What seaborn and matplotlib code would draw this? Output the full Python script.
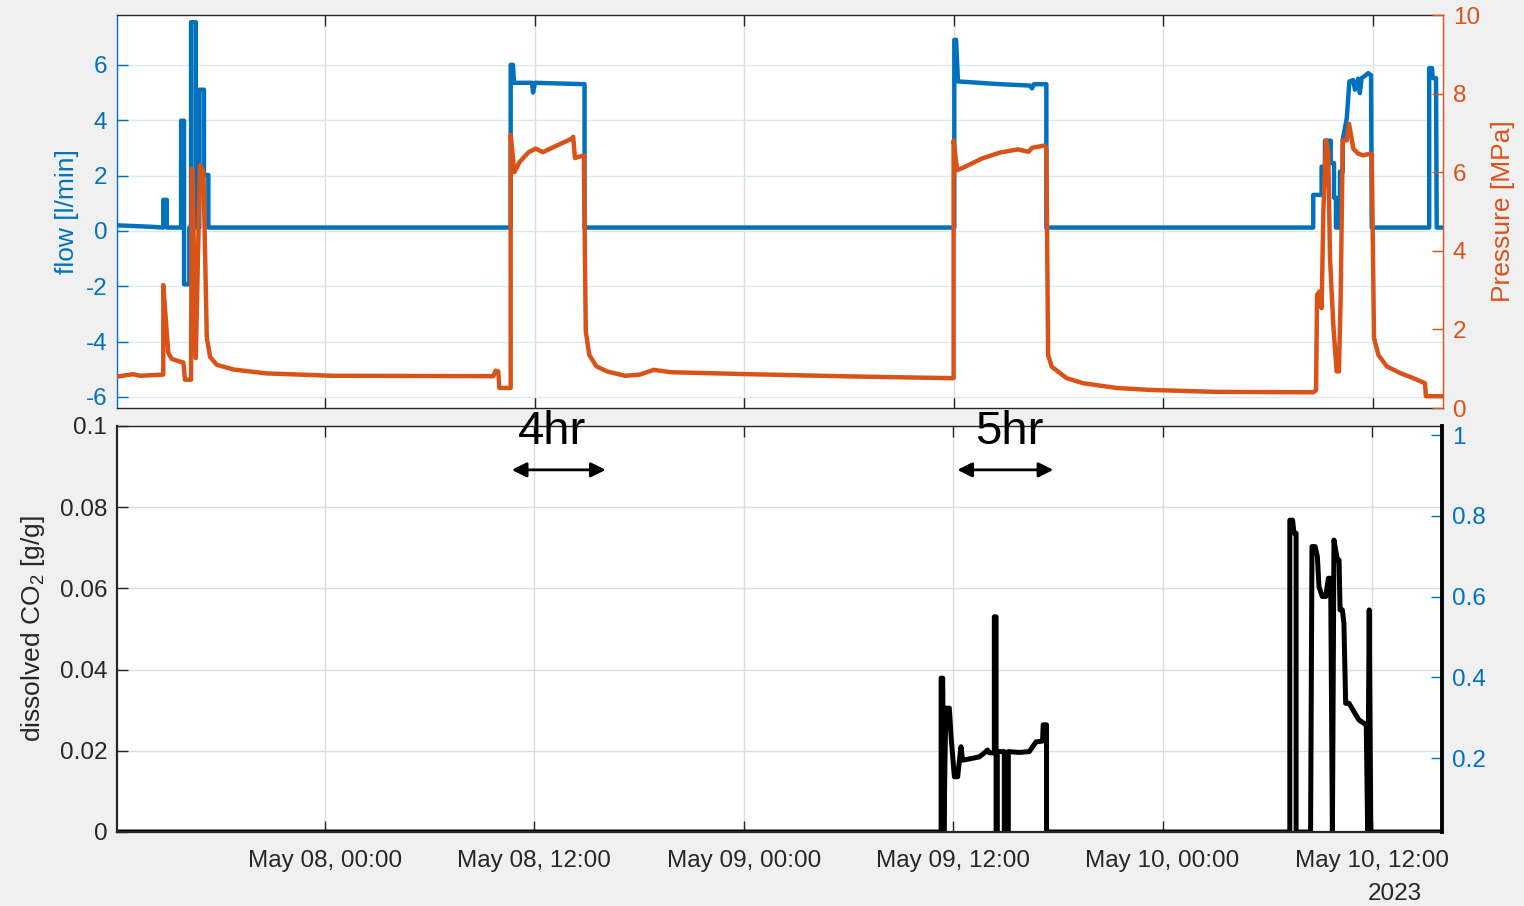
import matplotlib
matplotlib.use("Agg")
import matplotlib.pyplot as plt
import matplotlib.dates as mdates
import pandas as pd
import seaborn as sns

sns.set_style("white")
plt.rcParams["font.family"] = ["Liberation Sans", "DejaVu Sans"]
plt.rcParams["axes.unicode_minus"] = False
plt.rcParams["mathtext.fontset"] = "custom"
plt.rcParams["mathtext.rm"] = "Liberation Sans"

BLUE = "#0072BD"
ORANGE = "#D95319"
DARK = "#262626"

T0 = pd.Timestamp("2023-05-08 00:00")

# ---- flow [l/min], time in hours from May 08 00:00 ----
flow_hours = [-11.91, -10.02, -9.26, -9.26, -9.06, -9.06, -8.24, -8.24, -8.07, -8.07,
              -7.77, -7.77, -7.67, -7.67, -7.40, -7.40, -7.20, -7.20, -6.93, -6.93,
              -6.68, -6.68, 10.63, 10.63, 10.76, 10.82, 11.85, 11.91, 12.02, 14.86,
              14.86, 36.03, 36.03, 36.13, 36.24, 38.65, 40.36, 40.48, 40.59, 41.30,
              41.30, 56.58, 56.58, 57.06, 57.06, 57.25, 57.25, 57.58, 57.58, 57.77,
              57.77, 57.88, 57.88, 58.11, 58.11, 58.27, 58.27, 58.50, 58.65, 58.87,
              58.97, 59.16, 59.25, 59.35, 59.54, 59.73, 59.89, 59.93, 63.22, 63.22,
              63.38, 63.42, 63.61, 63.65, 64.01]
flow_lpm = [0.20, 0.15, 0.12, 1.12, 1.12, 0.12, 0.12, 3.98, 3.98, -1.93,
            -1.93, 0.12, 0.12, 7.54, 7.54, 0.12, 0.12, 5.10, 5.10, 2.02,
            2.02, 0.12, 0.12, 6.00, 6.00, 5.35, 5.35, 5.00, 5.35, 5.30,
            0.12, 0.12, 6.90, 6.90, 5.40, 5.30, 5.25, 5.15, 5.30, 5.30,
            0.12, 0.12, 1.30, 1.30, 2.32, 2.32, 3.26, 3.26, 2.45, 2.45,
            1.20, 1.20, 0.12, 0.12, 2.14, 2.14, 3.29, 4.07, 5.40, 5.45,
            5.10, 5.50, 4.98, 5.52, 5.60, 5.70, 5.62, 0.12, 0.12, 5.88,
            5.88, 5.52, 5.52, 0.12, 0.12]

# ---- pressure [MPa] ----
pressure_hours = [-11.91, -10.99, -10.59, -9.26, -9.26, -9.06, -8.97, -8.78, -8.30, -8.11,
                  -8.02, -7.67, -7.63, -7.59, -7.40, -7.16, -6.96, -6.77, -6.58, -6.20,
                  -5.25, -3.34, 0.46, 9.64, 9.76, 9.92, 9.98, 10.63, 10.63, 10.84,
                  11.14, 11.66, 12.06, 12.47, 13.09, 14.11, 14.21, 14.31, 14.82, 14.93,
                  15.13, 15.54, 16.15, 17.18, 18.03, 18.81, 19.83, 24.33, 30.46, 35.78,
                  35.99, 35.99, 36.19, 36.60, 37.62, 38.65, 39.67, 40.28, 40.48, 41.20,
                  41.30, 41.40, 41.61, 42.46, 43.41, 45.32, 47.23, 51.05, 56.58, 56.74,
                  56.80, 56.93, 57.06, 57.16, 57.31, 57.44, 57.54, 57.73, 57.92, 58.05,
                  58.15, 58.27, 58.50, 58.63, 58.78, 58.87, 59.16, 59.44, 59.83, 59.93,
                  60.06, 60.31, 60.79, 61.55, 62.31, 62.98, 63.03, 64.01]
pressure_mpa = [0.80, 0.86, 0.82, 0.85, 3.13, 1.90, 1.40, 1.25, 1.18, 1.16,
                0.72, 0.72, 6.09, 6.09, 1.27, 6.18, 6.00, 1.80, 1.30, 1.10,
                0.98, 0.88, 0.82, 0.81, 0.95, 0.93, 0.51, 0.51, 6.95, 6.00,
                6.26, 6.51, 6.60, 6.51, 6.64, 6.85, 6.90, 6.36, 6.43, 1.95,
                1.35, 1.06, 0.93, 0.82, 0.85, 0.97, 0.91, 0.86, 0.80, 0.76,
                0.76, 6.81, 6.05, 6.13, 6.35, 6.50, 6.58, 6.52, 6.62, 6.68,
                6.62, 1.35, 1.05, 0.76, 0.63, 0.51, 0.46, 0.41, 0.40, 0.45,
                2.88, 2.96, 2.54, 4.99, 6.81, 6.51, 3.81, 2.11, 0.93, 0.93,
                2.79, 6.81, 6.81, 7.23, 6.85, 6.60, 6.47, 6.43, 6.47, 6.45,
                1.78, 1.35, 1.06, 0.89, 0.76, 0.63, 0.30, 0.30]

# ---- dissolved CO2 [g/g] ----
co2_hours = [-11.91, 35.31, 35.31, 35.40, 35.47, 35.58, 35.78, 35.88, 36.07, 36.26,
             36.35, 36.45, 36.54, 36.93, 37.50, 37.79, 37.97, 38.07, 38.36, 38.36,
             38.46, 38.46, 38.53, 38.53, 38.93, 38.93, 39.16, 39.16, 39.79, 40.36,
             40.75, 41.12, 41.16, 41.35, 41.35, 55.29, 55.29, 55.45, 55.53, 55.65,
             55.65, 56.48, 56.56, 56.74, 56.87, 56.96, 57.15, 57.35, 57.50, 57.63,
             57.73, 57.82, 58.01, 58.11, 58.17, 58.30, 58.39, 58.49, 58.68, 58.97,
             59.25, 59.67, 59.75, 59.84, 59.93, 64.01]
co2_gg = [0.0, 0.0, 0.0379, 0.0379, 0.0, 0.0305, 0.0305, 0.0235, 0.0136, 0.0136,
          0.0173, 0.0210, 0.0177, 0.0180, 0.0185, 0.0195, 0.0202, 0.0195, 0.0195, 0.0530,
          0.0530, 0.0, 0.0, 0.0198, 0.0198, 0.0, 0.0, 0.0198, 0.0196, 0.0198,
          0.0222, 0.0224, 0.0264, 0.0264, 0.0, 0.0, 0.0768, 0.0768, 0.0736, 0.0736,
          0.0, 0.0, 0.0703, 0.0703, 0.0678, 0.0604, 0.0580, 0.0580, 0.0625, 0.0625,
          0.0, 0.0719, 0.0670, 0.0670, 0.0547, 0.0547, 0.0514, 0.0317, 0.0317, 0.0296,
          0.0276, 0.0264, 0.0, 0.0547, 0.0, 0.0]

tick_hours = [0, 12, 24, 36, 48, 60]
tick_labels = ["May 08, 00:00", "May 08, 12:00", "May 09, 00:00",
               "May 09, 12:00", "May 10, 00:00", "May 10, 12:00"]
flow_ticks = [-6, -4, -2, 0, 2, 4, 6]
pressure_ticks = [0, 2, 4, 6, 8, 10]
co2_ticks = [0, 0.02, 0.04, 0.06, 0.08, 0.1]
right_ticks = [0.2, 0.4, 0.6, 0.8, 1]

# duration markers: (start h, end h, label centre h, label)
spans = [(10.71, 16.09, 13.0, "4hr"), (36.24, 41.74, 39.22, "5hr")]


def to_time(hours):
    return T0 + pd.to_timedelta(hours, unit="h")


def to_num(h):
    return mdates.date2num(to_time([h])[0].to_pydatetime())


flow_df = pd.DataFrame({"t": to_time(flow_hours), "v": flow_lpm})
pres_df = pd.DataFrame({"t": to_time(pressure_hours), "v": pressure_mpa})
co2_df = pd.DataFrame({"t": to_time(co2_hours), "v": co2_gg})
tick_times = list(to_time(tick_hours))
x_lo, x_hi = to_time([-11.91, 64.01])

W, H = 1524, 906
fig = plt.figure(figsize=(W / 100, H / 100), dpi=100, facecolor="#f0f0f0")
ax_f = fig.add_axes([117 / W, 1 - 408 / H, 1326 / W, 393 / H])
ax_p = ax_f.twinx()
ax_c = fig.add_axes([117 / W, 1 - 832 / H, 1325 / W, 406 / H])
ax_r = ax_c.twinx()

TS = 17.5   # tick label size
LS = 19     # axis label size

# ---------- top panel: flow and pressure ----------
sns.lineplot(data=flow_df, x="t", y="v", ax=ax_f, color=BLUE, lw=3.2,
             estimator=None, sort=False, legend=False)
sns.lineplot(data=pres_df, x="t", y="v", ax=ax_p, color=ORANGE, lw=3.2,
             estimator=None, sort=False, legend=False)

ax_f.set_facecolor("white")
ax_f.set_xlim(x_lo, x_hi)
ax_f.set_ylim(-6.4, 7.8)
ax_p.set_ylim(0, 10)
ax_f.set_xticks(tick_times)
ax_f.set_xticklabels([])
ax_f.set_yticks(flow_ticks)
ax_f.set_yticklabels([str(v) for v in flow_ticks])
ax_p.set_yticks(pressure_ticks)
ax_p.set_yticklabels([str(v) for v in pressure_ticks])
ax_f.set_xlabel("")
ax_f.set_axisbelow(True)
ax_f.grid(True, axis="y", color="#d9eaf5", lw=1.0)
ax_f.grid(True, axis="x", color="#dedede", lw=1.0)

ax_f.tick_params(axis="x", direction="in", top=True, bottom=True, length=8,
                 width=1.0, color=DARK)
ax_f.tick_params(axis="y", direction="in", left=True, length=8, width=1.0,
                 color=BLUE, labelcolor=BLUE, labelsize=TS, pad=7)
ax_p.tick_params(axis="y", direction="in", right=True, length=8, width=1.0,
                 color=ORANGE, labelcolor=ORANGE, labelsize=TS, pad=7)

for s in ("top", "bottom"):
    ax_f.spines[s].set_color(DARK)
    ax_f.spines[s].set_linewidth(1.0)
ax_f.spines["left"].set_color(BLUE)
ax_f.spines["left"].set_linewidth(1.0)
ax_f.spines["right"].set_visible(False)
for s in ("top", "bottom", "left"):
    ax_p.spines[s].set_visible(False)
ax_p.spines["right"].set_color(ORANGE)
ax_p.spines["right"].set_linewidth(1.0)

ax_f.set_ylabel("flow [l/min]", color=BLUE, fontsize=LS)
ax_f.yaxis.set_label_coords(-0.029, 0.5)
ax_p.set_ylabel("Pressure [MPa]", color=ORANGE, fontsize=LS)
ax_p.yaxis.set_label_coords(1.036, 0.5)

# ---------- bottom panel: dissolved CO2 ----------
sns.lineplot(data=co2_df, x="t", y="v", ax=ax_c, color="black", lw=3.6,
             estimator=None, sort=False, legend=False)

ax_c.set_facecolor("white")
ax_c.set_xlim(x_lo, x_hi)
ax_c.set_ylim(0, 0.1)
ax_r.set_ylim(0.0166, 1.023)
ax_c.set_xticks(tick_times)
ax_c.set_xticklabels(tick_labels)
ax_c.set_yticks(co2_ticks)
ax_c.set_yticklabels(["0", "0.02", "0.04", "0.06", "0.08", "0.1"])
ax_r.set_yticks(right_ticks)
ax_r.set_yticklabels(["0.2", "0.4", "0.6", "0.8", "1"])
ax_c.set_xlabel("")
ax_c.set_axisbelow(True)
ax_c.grid(True, color="#dedede", lw=1.0)

ax_c.tick_params(axis="x", direction="in", top=True, bottom=True, length=8,
                 width=1.0, color=DARK, labelcolor=DARK, labelsize=TS, pad=13)
ax_c.tick_params(axis="y", direction="in", left=True, length=8, width=1.0,
                 color=DARK, labelcolor=DARK, labelsize=TS, pad=7)
ax_r.tick_params(axis="y", direction="in", right=True, length=8, width=1.0,
                 color=BLUE, labelcolor=BLUE, labelsize=TS, pad=7)

for s in ("top", "bottom", "left"):
    ax_c.spines[s].set_color(DARK)
ax_c.spines["top"].set_linewidth(1.0)
ax_c.spines["bottom"].set_linewidth(1.6)
ax_c.spines["left"].set_linewidth(1.6)
ax_c.spines["right"].set_visible(False)
for s in ("top", "bottom", "left"):
    ax_r.spines[s].set_visible(False)
ax_r.spines["right"].set_color("black")
ax_r.spines["right"].set_linewidth(2.8)

ax_c.set_ylabel("dissolved CO$_\\mathregular{2}$ [g/g]", color=DARK, fontsize=LS)
ax_c.yaxis.set_label_coords(-0.053, 0.5)

# double-headed duration arrows with their labels
for t_a, t_b, t_txt, txt in spans:
    ax_c.annotate("", xy=(to_num(t_b), 0.0892), xytext=(to_num(t_a), 0.0892),
                  arrowprops=dict(arrowstyle="<|-|>", color="black", lw=2.0,
                                  mutation_scale=22, shrinkA=0, shrinkB=0))
    ax_c.text(to_num(t_txt), 0.0955, txt, ha="center", va="baseline",
              fontsize=34, color="black", clip_on=False, zorder=10)

fig.text(1395 / W, 1 - 894 / H, "2023", ha="center", va="center",
         fontsize=TS, color=DARK)

fig.savefig("out.png", dpi=100, facecolor=fig.get_facecolor())
